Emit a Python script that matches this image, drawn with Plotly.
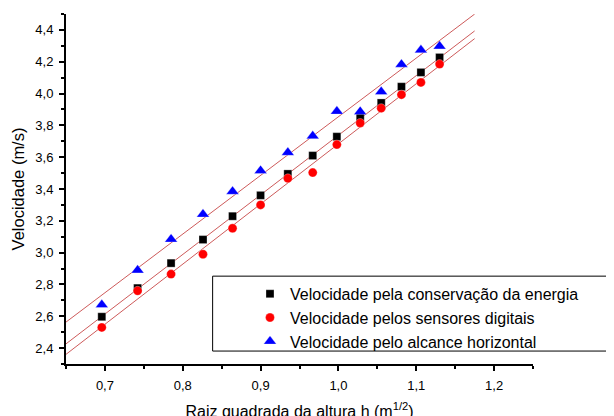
import numpy as np
import plotly.graph_objects as go

# Data
raiz_h = [0.696, 0.742, 0.785, 0.826, 0.864, 0.900, 0.935, 0.967, 0.998, 1.028, 1.055, 1.081, 1.106, 1.130]
v_energia = [2.597, 2.777, 2.934, 3.082, 3.229, 3.360, 3.495, 3.610, 3.729, 3.850, 3.941, 4.043, 4.133, 4.227]
v_sensores = [2.530, 2.760, 2.865, 2.990, 3.153, 3.300, 3.467, 3.503, 3.679, 3.815, 3.908, 3.993, 4.070, 4.185]
v_alcance = [2.672, 2.890, 3.084, 3.241, 3.384, 3.515, 3.629, 3.733, 3.888, 3.886, 4.011, 4.183, 4.273, 4.298]

nomes = ["Velocidade pela conservação da energia",
         "Velocidade pelos sensores digitais",
         "Velocidade pelo alcance horizontal"]
fit_x_range = [0.65, 1.175]

series = [v_energia, v_sensores, v_alcance]
symbols = ["square", "circle", "triangle-up"]
colors = ["black", "red", "blue"]
sizes = [8, 9, 11]

fig = go.Figure()

# linear fit lines
fx = np.array(fit_x_range)
for ys in series:
    m, b = np.polyfit(raiz_h, ys, 1)
    fig.add_trace(go.Scatter(x=fx, y=m * fx + b, mode="lines",
                             line=dict(color="rgb(205,90,90)", width=1),
                             showlegend=False, hoverinfo="skip"))

for ys, nm, sym, col, sz in zip(series, nomes, symbols, colors, sizes):
    fig.add_trace(go.Scatter(x=raiz_h, y=ys, mode="markers", name=nm,
                             marker=dict(symbol=sym, color=col, size=sz,
                                         line=dict(color="rgba(255,255,255,0.6)", width=0.5))))

font_family = "Liberation Sans, Arial, sans-serif"

fig.update_layout(
    width=614, height=416,
    margin=dict(l=58, r=89, t=6, b=60, autoexpand=False),
    paper_bgcolor="white", plot_bgcolor="white",
    separators=",.",
    font=dict(family=font_family, color="black", size=13),
    showlegend=True,
    legend=dict(x=0.394, y=0.249, xanchor="left", yanchor="top",
                bgcolor="rgba(0,0,0,0)", borderwidth=0,
                font=dict(size=16, family=font_family)),
    xaxis=dict(range=[0.65, 1.25], dtick=0.1, tick0=0.7, tickformat=".1f",
               showgrid=False, zeroline=False, showline=True, linecolor="black", linewidth=2,
               ticks="outside", ticklen=5, tickwidth=1.5, tickcolor="black", ticklabelstandoff=3,
               minor=dict(ticks="outside", ticklen=3, dtick=0.05, tick0=0.65, tickcolor="black", tickwidth=1.5),
               title=dict(text="Raiz quadrada da altura h (m<sup>1/2</sup>)", font=dict(size=16), standoff=14)),
    yaxis=dict(range=[2.3, 4.5], dtick=0.2, tick0=2.4, tickformat=".1f",
               showgrid=False, zeroline=False, showline=True, linecolor="black", linewidth=2,
               ticks="outside", ticklen=5, tickwidth=1.5, tickcolor="black", ticklabelstandoff=3,
               minor=dict(ticks="outside", ticklen=3, dtick=0.1, tick0=2.3, tickcolor="black", tickwidth=1.5),
               title=dict(text="Velocidade (m/s)", font=dict(size=16.5), standoff=7)),
    shapes=[dict(type="rect", xref="paper", yref="paper",
                 x0=0.314, x1=1.172, y0=0.037, y1=0.251,
                 line=dict(color="black", width=1), fillcolor="rgba(0,0,0,0)", layer="above")],
)

fig.write_html("out.html")
